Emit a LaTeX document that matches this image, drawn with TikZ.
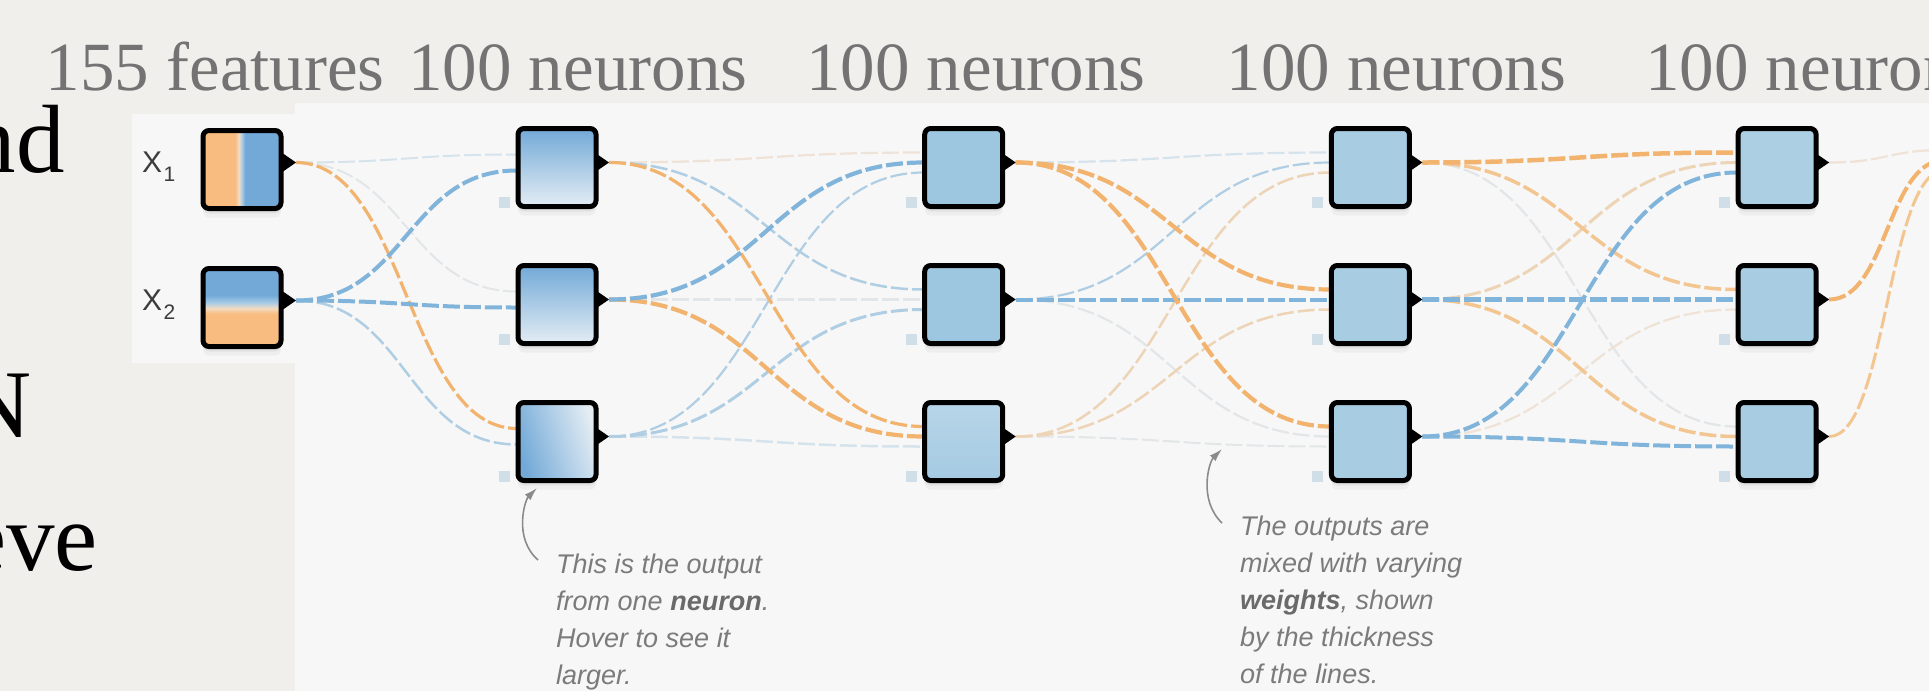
\documentclass[tikz,border=0pt]{standalone}
\usepackage{fontspec}
\setmainfont{Liberation Serif}
\newfontfamily\sansf{Liberation Sans}
\usetikzlibrary{calc,arrows.meta}
\pgfdeclarelayer{bg}
\pgfdeclarelayer{edges}
\pgfsetlayers{bg,edges,main}
\definecolor{pagebg}{HTML}{F0EFEB}
\definecolor{panel}{HTML}{F7F7F7}
\definecolor{hdrc}{HTML}{737373}
\definecolor{nb}{HTML}{72A9D7}
\definecolor{nbl}{HTML}{A9CCE6}
\definecolor{no}{HTML}{F8BC80}
\definecolor{npale}{HTML}{F3DCC2}
\definecolor{paleb}{HTML}{E4EDF4}
\definecolor{ltwo}{HTML}{9DC6E0}
\definecolor{ltwot}{HTML}{B8D5E8}
\definecolor{ltwob}{HTML}{A4CAE2}
\definecolor{lthree}{HTML}{A8CCE2}
\definecolor{lfour}{HTML}{ACCFE4}
\definecolor{sqc}{HTML}{D0DEE7}
\definecolor{oS}{HTML}{F2B36E}
\definecolor{oM}{HTML}{F2C591}
\definecolor{oL}{HTML}{EDD4B6}
\definecolor{oX}{HTML}{EEE3D6}
\definecolor{bS}{HTML}{80B4DA}
\definecolor{bM}{HTML}{B0CEE3}
\definecolor{bL}{HTML}{D5E3EC}
\definecolor{gL}{HTML}{E2E6E8}
\definecolor{ann}{HTML}{7B7B7B}
\definecolor{annb}{HTML}{6A6A6A}
\definecolor{arr}{HTML}{8A8A8A}
\definecolor{labc}{HTML}{3C3C3C}
\pgfdeclarehorizontalshading{xone}{100bp}{color(0bp)=(no); color(45.5bp)=(no); color(48bp)=(npale); color(50bp)=(nbl); color(52bp)=(nb); color(100bp)=(nb)}
\pgfdeclareverticalshading{xtwo}{100bp}{color(0bp)=(no); color(46bp)=(no); color(49.5bp)=(npale); color(53bp)=(nbl); color(58bp)=(nb); color(100bp)=(nb)}
\tikzset{
  box/.style={draw=black, line width=5pt, rounded corners=6pt, minimum width=78pt, minimum height=78pt, inner sep=0pt,
    preaction={fill=black, opacity=0.05, transform canvas={yshift=-5pt}},
    preaction={fill=black, opacity=0.035, transform canvas={yshift=-9pt}}},
  lk/.style={dash pattern=on 17pt off 4pt, out=0, in=180, distance=#1},
  hdr/.style={text=hdrc, font=\fontsize{69}{69}\selectfont, inner sep=0pt, anchor=base west},
  big/.style={text=black, font=\fontsize{97}{97}\selectfont, inner sep=0pt, anchor=base east},
  note/.style={text=ann, font=\sansf\itshape\fontsize{27}{37}\selectfont, inner sep=0pt, anchor=base west},
  xlab/.style={text=labc, inner sep=0pt, anchor=base west, font=\sansf},
  pointer/.style={draw=arr, line width=1.6pt, -{Latex[length=13pt,width=8pt]}},
}
\newcommand\hid[4]{%
  \node[box,#4] (#1) at (#2,#3) {};
  \fill (#1.center) ++(39,-14) -- ++(13,9) -- ++(-13,9) -- cycle;
  \fill[sqc] (#1.center) ++(-58,29) rectangle ++(11,11);
  \coordinate (#1o) at ($(#1.center)+(52,-5)$);
  \coordinate (#1a) at ($(#1.center)+(-40,-15)$);
  \coordinate (#1b) at ($(#1.center)+(-40,-5)$);
  \coordinate (#1c) at ($(#1.center)+(-40,5)$);
  \coordinate (#1p) at ($(#1.center)+(-40,-13)$);
  \coordinate (#1q) at ($(#1.center)+(-40,3)$);
}
\newcommand\inp[4]{%
  \node[box,#4] (#1) at (#2,#3) {};
  \fill (#1.center) ++(41,-16) -- ++(13,9) -- ++(-13,9) -- cycle;
  \coordinate (#1o) at ($(#1.center)+(54,-7)$);
}
\newcommand\wire[5]{\draw[lk=#1,#2,line width=#3pt] (#4) to (#5);}
\begin{document}
\begin{tikzpicture}[x=1pt,y=-1pt]
\useasboundingbox (0,0) rectangle (1929,691);
\begin{pgfonlayer}{bg}
  \fill[pagebg] (0,0) rectangle (1929,691);
  \fill[panel] (295,103) rectangle (1929,691);
  \fill[panel] (132,114) rectangle (295,363);
\end{pgfonlayer}

% header
\node[hdr] (t0) at (45.5,90) {155 features};
\node[hdr] (t1) at (408,90) {100 neurons};
\node[hdr] (t2) at (806,90) {100 neurons};
\node[hdr] (t3) at (1226.5,90) {100 neurons};
\node[hdr] (t4) at (1645,90) {100 neurons};

% cut-off body text at left
\node[big] (bt1) at (65,172) {nd};
\node[big] (bt2) at (32,437) {N};
\node[big] (bt3) at (98,570) {eve};

% inputs
\inp{xa}{242}{169.5}{shade, shading=xone}
\inp{xb}{242}{307.5}{shade, shading=xtwo}
\node[xlab] (lx1) at (142,172) {\fontsize{30}{30}\selectfont X\kern1.5pt\raisebox{-9pt}{\fontsize{21}{21}\selectfont 1}};
\node[xlab] (lx2) at (142,310) {\fontsize{30}{30}\selectfont X\kern1.5pt\raisebox{-9pt}{\fontsize{21}{21}\selectfont 2}};

% hidden layers
\hid{ha}{557}{167.5}{top color=nb, bottom color=paleb}
\hid{hb}{557}{304.5}{top color=nb, bottom color=paleb}
\hid{hc}{557}{441.5}{left color=nb, right color=paleb, shading angle=107}
\hid{ia}{963.7}{167.5}{fill=ltwo}
\hid{ib}{963.7}{304.5}{fill=ltwo}
\hid{ic}{963.7}{441.5}{top color=ltwot, bottom color=ltwob}
\hid{ja}{1370.4}{167.5}{fill=lthree}
\hid{jb}{1370.4}{304.5}{fill=lthree}
\hid{jc}{1370.4}{441.5}{fill=lthree}
\hid{ka}{1777.1}{167.5}{fill=lfour}
\hid{kb}{1777.1}{304.5}{fill=lthree}
\hid{kc}{1777.1}{441.5}{fill=lthree}

% entries of the next (off-page) layer
\coordinate (oa) at (1945,150);
\coordinate (ob) at (1945,160);
\coordinate (oc) at (1945,170);

\begin{pgfonlayer}{edges}
  % inputs -> layer 1
  \wire{110pt}{gL}{2}{xao}{hbp}
  \wire{110pt}{bL}{2}{xao}{hap}
  \wire{110pt}{bM}{2.5}{xbo}{hcq}
  \wire{110pt}{oS}{3.2}{xao}{hcp}
  \wire{110pt}{bS}{4}{xbo}{haq}
  \wire{110pt}{bS}{4}{xbo}{hbq}
  % layer 1 -> layer 2
  \wire{157pt}{gL}{2.2}{hbo}{ibb}
  \wire{157pt}{oX}{2.2}{hao}{iaa}
  \wire{157pt}{bL}{2.5}{hco}{icc}
  \wire{157pt}{bM}{2.2}{hco}{iac}
  \wire{157pt}{bM}{2.5}{hao}{iba}
  \wire{157pt}{bM}{3}{hco}{ibc}
  \wire{157pt}{oS}{3.2}{hao}{ica}
  \wire{157pt}{oS}{4.2}{hbo}{icb}
  \wire{157pt}{bS}{4.2}{hbo}{iab}
  % layer 2 -> layer 3
  \wire{157pt}{gL}{2}{ico}{jcc}
  \wire{157pt}{gL}{2.2}{ibo}{jcb}
  \wire{157pt}{bL}{2.2}{iao}{jaa}
  \wire{157pt}{bM}{2.2}{ibo}{jab}
  \wire{157pt}{oL}{2.5}{ico}{jac}
  \wire{157pt}{oL}{2.5}{ico}{jbc}
  \wire{157pt}{bS}{4}{ibo}{jbb}
  \wire{157pt}{oS}{4.2}{iao}{jba}
  \wire{157pt}{oS}{4.2}{iao}{jca}
  % layer 3 -> layer 4
  \wire{157pt}{gL}{2.2}{jao}{kca}
  \wire{157pt}{oX}{2.2}{jco}{kbc}
  \wire{157pt}{oL}{3}{jbo}{kab}
  \wire{157pt}{oM}{3.5}{jao}{kba}
  \wire{157pt}{oM}{3.5}{jbo}{kcb}
  \wire{157pt}{bS}{4}{jco}{kac}
  \wire{157pt}{bS}{4}{jco}{kcc}
  \wire{157pt}{bS}{4.5}{jbo}{kbb}
  \wire{157pt}{oS}{4.5}{jao}{kaa}
  % layer 4 -> next layer
  \wire{58pt}{oX}{2.2}{kao}{oa}
  \wire{58pt}{oM}{3}{kco}{oc}
  \wire{58pt}{oS}{4}{kbo}{ob}
\end{pgfonlayer}

% annotations
\coordinate (a1t) at (538,560);
\coordinate (a1h) at (537,488);
\draw[pointer] (a1t) .. controls (513,538) and (525,500) .. (a1h);
\node[note] (n1a) at (556,573) {This is the output};
\node[note] (n1b) at (556,610) {from one {\color{annb}\bfseries neuron}.};
\node[note] (n1c) at (556,647) {Hover to see it};
\node[note] (n1d) at (556,684) {larger.};

\coordinate (a2t) at (1222,523);
\coordinate (a2h) at (1222,449);
\draw[pointer] (a2t) .. controls (1198,500) and (1209,462) .. (a2h);
\node[note] (n2a) at (1240,535) {The outputs are};
\node[note] (n2b) at (1240,572) {mixed with varying};
\node[note] (n2c) at (1240,609) {{\color{annb}\bfseries weights}, shown};
\node[note] (n2d) at (1240,646) {by the thickness};
\node[note] (n2e) at (1240,683) {of the lines.};
\end{tikzpicture}
\end{document}
